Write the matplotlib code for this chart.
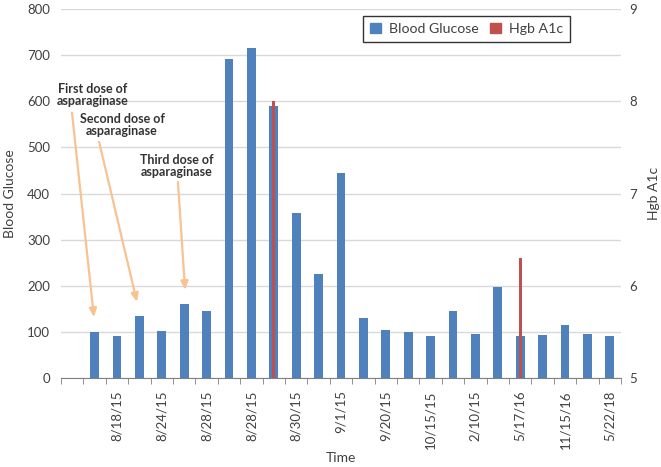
import numpy as np
import matplotlib
matplotlib.use("Agg")
from matplotlib import pyplot as plt
from matplotlib.patches import Patch

plt.rcParams['font.family'] = ['Lato', 'DejaVu Sans']

# Data (category 0 is an empty slot, labels only on every other category)
glucose = [None, 99, 92, 134, 102, 160, 145, 691, 716, 589, 357, 225, 445,
           129, 104, 99, 91, 145, 95, 197, 90, 93, 114, 95, 92]
hgb_a1c = [None, None, None, None, None, None, None, None, None, 8.0, None, None, None,
           None, None, None, None, None, None, None, 6.3, None, None, None, None]
tick_labels = ['', '8/18/15', '8/24/15', '8/28/15', '8/28/15', '8/30/15', '9/1/15',
               '9/20/15', '10/15/15', '2/10/15', '5/17/16', '11/15/16', '5/22/18']

blue = '#4F81BD'
red = '#C0504D'
orange = '#F8C291'
txt = '#404040'
fs = 9.5

x = np.arange(len(glucose))
g = np.array([np.nan if v is None else v for v in glucose], dtype=float)
a = np.array([np.nan if v is None else v for v in hgb_a1c], dtype=float)

fig = plt.figure(figsize=(6.61, 4.67), dpi=100)
ax = fig.add_axes([0.0923, 0.1906, 0.8472, 0.7901])
ax2 = ax.twinx()

ax.bar(x, g, width=0.4, color=blue, zorder=2)
ax2.bar(x, a, width=0.14, color=red, zorder=3)

ax.set_xlim(-0.5, len(glucose) - 0.5)
ax.set_ylim(0, 800)
ax2.set_ylim(5, 9)
ax.set_yticks(np.arange(0, 801, 100))
ax2.set_yticks([5, 6, 7, 8, 9])

ax.yaxis.grid(True, color='#D9D9D9', lw=1)
ax.set_axisbelow(True)

# category labels on every other slot
ax.set_xticks(x[::2])
ax.set_xticklabels(tick_labels, rotation=90, fontsize=fs, color=txt)
ax.set_xticks(np.arange(-0.5, len(glucose), 1), minor=True)
ax.tick_params(axis='x', which='major', length=0, pad=9)
ax.tick_params(axis='x', which='minor', length=4, color='#808080', direction='out')
ax.tick_params(axis='y', length=0, labelsize=fs, labelcolor=txt, pad=8)
ax2.tick_params(axis='y', length=0, labelsize=fs, labelcolor=txt, pad=6)

for a_ in (ax, ax2):
    for s in ['left', 'right', 'top']:
        a_.spines[s].set_visible(False)
ax.spines['bottom'].set_color('#808080')
ax2.spines['bottom'].set_visible(False)

ax.set_ylabel('Blood Glucose', fontsize=fs + 0.5, color=txt, labelpad=8)
ax2.set_ylabel('Hgb A1c', fontsize=fs + 0.5, color=txt, labelpad=8)
ax.set_xlabel('Time', fontsize=fs + 0.5, color=txt, labelpad=2)

# annotations
notes = [('First dose of\nasparaginase', (0.93, 614), (-0.01, 575), (0.97, 132)),
         ('Second dose of\nasparaginase', (2.22, 548), (1.20, 512), (2.89, 165)),
         ('Third dose of\nasparaginase', (4.68, 460), (4.72, 425), (5.04, 191))]
for label, tpos, tail, head in notes:
    ax2.text(tpos[0], 5 + tpos[1] / 200, label, ha='center', va='center', fontsize=9,
             fontweight='bold', color='#333333', linespacing=1.05, zorder=5)
    ax2.annotate('', xy=(head[0], 5 + head[1] / 200), xytext=(tail[0], 5 + tail[1] / 200),
                 arrowprops=dict(arrowstyle='-|>,head_length=0.5,head_width=0.22',
                                 color=orange, lw=1.6, shrinkA=0, shrinkB=0), zorder=4)

handles = [Patch(color=blue), Patch(color=red)]
leg = ax2.legend(handles, ['Blood Glucose', 'Hgb A1c'], ncol=2, loc='upper left',
                 bbox_to_anchor=(0.539, 0.982), fancybox=False, fontsize=10.2,
                 handlelength=0.75, handleheight=0.75, handletextpad=0.6,
                 columnspacing=0.8, borderpad=0.5, borderaxespad=0)
leg.get_frame().set_edgecolor('black')
leg.get_frame().set_linewidth(1)
for t in leg.get_texts():
    t.set_color(txt)

fig.savefig('out.png', dpi=100)
